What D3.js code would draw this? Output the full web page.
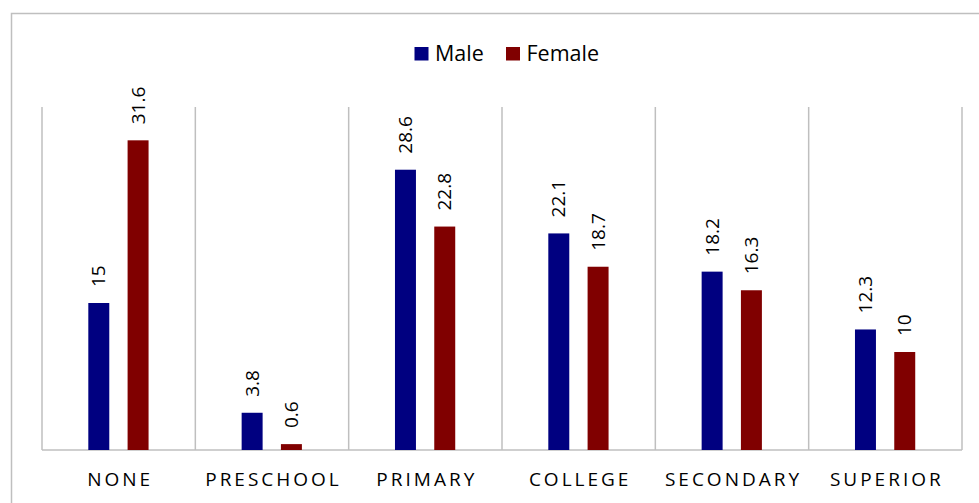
<!DOCTYPE html>
<html>
<head>
<meta charset="utf-8">
<script src="https://cdn.jsdelivr.net/npm/d3@7"></script>
<style>
  body { margin: 0; background: #fff; }
  svg { display: block; font-family: "Open Sans", sans-serif; }
</style>
</head>
<body>
<script>
// data
var categories = ["NONE", "PRESCHOOL", "PRIMARY", "COLLEGE", "SECONDARY", "SUPERIOR"];
var series = ["Male", "Female"];
var male = [15, 3.8, 28.6, 22.1, 18.2, 12.3];
var female = [31.6, 0.6, 22.8, 18.7, 16.3, 10];
var colors = ["#000080", "#800000"];

var width = 979, height = 503;
var plot = {left: 42, right: 962, top: 107, bottom: 450};

var svg = d3.select("body").append("svg")
    .attr("width", width)
    .attr("height", height);

// chart frame (runs off the right and bottom edges)
svg.append("rect")
    .attr("x", 11.5).attr("y", 13.5)
    .attr("width", 1000).attr("height", 600)
    .attr("fill", "none")
    .attr("stroke", "#bfbfbf")
    .attr("stroke-width", 1.5);

var x = d3.scaleBand()
    .domain(categories)
    .range([plot.left, plot.right]);

var bw = x.bandwidth();
var xs = d3.scaleBand()
    .domain(series)
    .range([bw * 0.302, bw * 0.695])
    .paddingInner(0.466);

var y = d3.scaleLinear()
    .domain([0, 35])
    .range([plot.bottom, plot.top]);

// vertical separators between categories
var edges = categories.map(function(c) { return x(c); }).concat([plot.right]);
svg.append("g").attr("class", "grid")
    .selectAll("line")
    .data(edges)
    .enter().append("line")
    .attr("x1", function(d) { return d; })
    .attr("x2", function(d) { return d; })
    .attr("y1", plot.top)
    .attr("y2", plot.bottom)
    .attr("stroke", "#bfbfbf")
    .attr("stroke-width", 1.5);

// baseline
svg.append("line")
    .attr("x1", plot.left).attr("x2", plot.right)
    .attr("y1", plot.bottom).attr("y2", plot.bottom)
    .attr("stroke", "#bfbfbf")
    .attr("stroke-width", 1.5);

var rows = [];
categories.forEach(function(c, i) {
  rows.push({cat: c, s: "Male", v: male[i], color: colors[0]});
  rows.push({cat: c, s: "Female", v: female[i], color: colors[1]});
});

var bars = svg.append("g").attr("class", "bars");

bars.selectAll("rect")
    .data(rows)
    .enter().append("rect")
    .attr("x", function(d) { return x(d.cat) + xs(d.s); })
    .attr("y", function(d) { return y(d.v); })
    .attr("width", xs.bandwidth())
    .attr("height", function(d) { return y(0) - y(d.v); })
    .attr("fill", function(d) { return d.color; });

// value labels, rotated
bars.selectAll("text")
    .data(rows)
    .enter().append("text")
    .attr("transform", function(d) {
      var cx = x(d.cat) + xs(d.s) + xs.bandwidth() / 2 + 6.5;
      var cy = y(d.v) - 16;
      return "translate(" + cx + "," + cy + ") rotate(-90)";
    })
    .attr("text-anchor", "start")
    .style("font-size", "19px")
    .style("fill", "#000")
    .text(function(d) { return d.v; });

// category labels
svg.append("g").attr("class", "x-labels")
    .selectAll("text")
    .data(categories)
    .enter().append("text")
    .attr("x", function(d) { return x(d) + bw / 2 + 1.5; })
    .attr("y", 486)
    .attr("text-anchor", "middle")
    .style("font-size", "19px")
    .style("letter-spacing", "3px")
    .style("fill", "#000")
    .text(function(d) { return d; });

// legend
var legendX = [414.5, 506];
var legend = svg.append("g").attr("class", "legend")
    .selectAll("g")
    .data(series)
    .enter().append("g")
    .attr("transform", function(d, i) { return "translate(" + legendX[i] + ",0)"; });

legend.append("rect")
    .attr("x", 0).attr("y", 47)
    .attr("width", 14).attr("height", 13.5)
    .attr("fill", function(d, i) { return colors[i]; });

legend.append("text")
    .attr("x", 20.5)
    .attr("y", 60.5)
    .style("font-size", "21.5px")
    .style("fill", "#000")
    .text(function(d) { return d; });
</script>
</body>
</html>
